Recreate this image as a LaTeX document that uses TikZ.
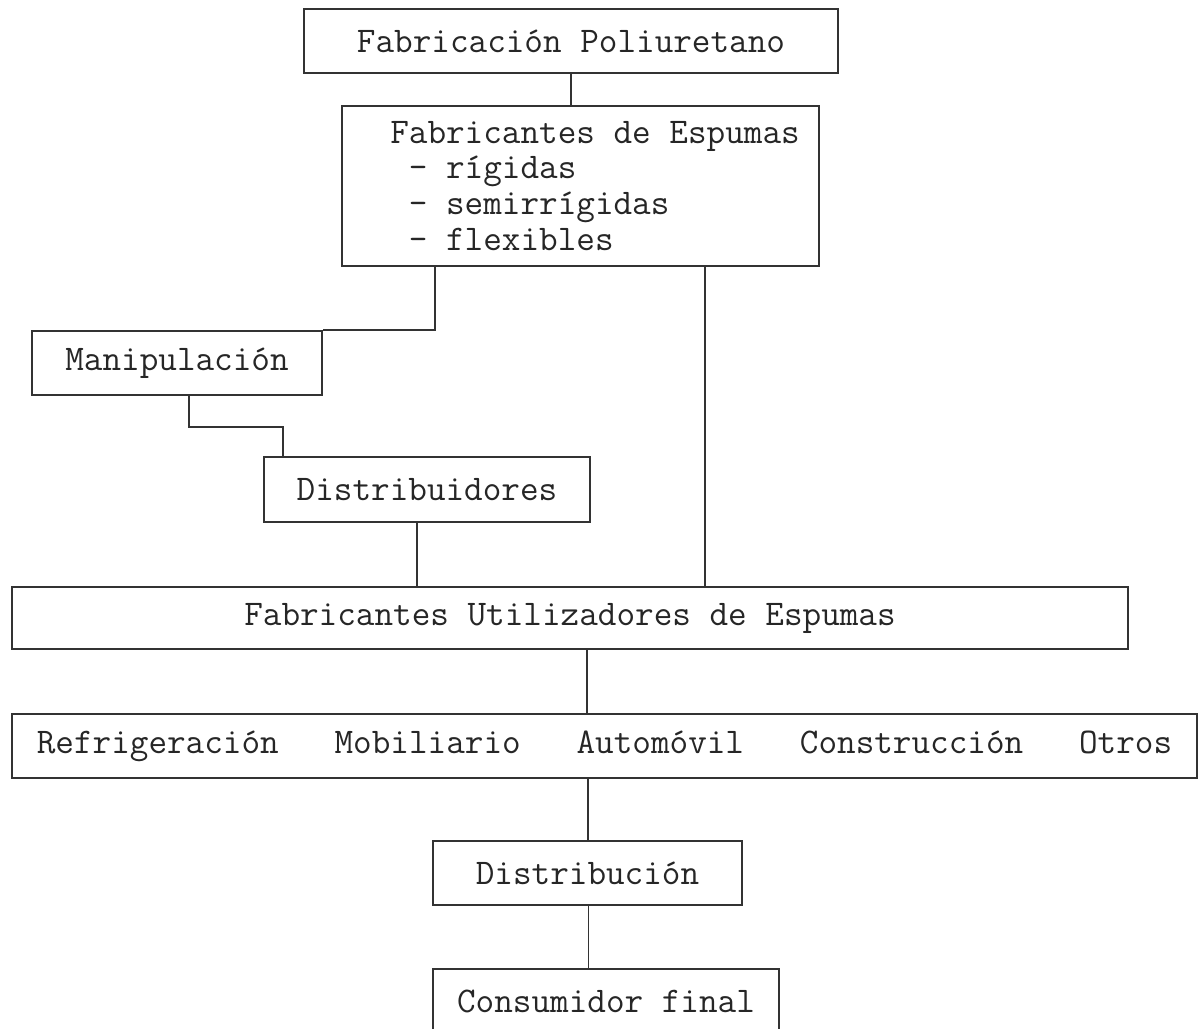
\documentclass[tikz,border=0pt]{standalone}
\usepackage{fontspec}
\usetikzlibrary{positioning}

\begin{document}
\begin{tikzpicture}[x=0.025cm, y=-0.025cm,
    box/.style={draw=black!80, line width=1.1pt, rectangle, inner sep=0pt, minimum height=1.6cm},
    link/.style={draw=black!80, line width=1.1pt},
    every node/.style={font=\ttfamily\fontsize{25.7pt}{25.5pt}\selectfont, text=black!85}]
    \useasboundingbox (0,0) rectangle (1198,1029);

    % boxes, top to bottom
    \node [box, minimum width=13.35cm](pu) at (571,41) {Fabricación Poliuretano};
    \node [box, minimum width=11.925cm, minimum height=4cm](espumas) at (580.5,186) {};
    \node [anchor=west, align=left, inner sep=0pt](espumaslist) at (390,186)
        {Fabricantes de Espumas\\~- rígidas\\~- semirrígidas\\~- flexibles};
    \node [box, minimum width=7.25cm](manip) at (177,363) {Manipulación};
    \node [box, minimum width=8.15cm, minimum height=1.625cm](distr) at (427,489.5) {Distribuidores};
    \node [box, minimum width=27.9cm, minimum height=1.55cm](utiliz) at (570,618) {Fabricantes Utilizadores de Espumas};
    \node [box, minimum width=29.625cm](sectores) at (604.5,746)
        {Refrigeración~~~Mobiliario~~~Automóvil~~~Construcción~~~Otros};
    \node [box, minimum width=7.725cm](distrib) at (587.5,873) {Distribución};
    \node [box, minimum width=8.65cm](consum) at (606,1001) {Consumidor final};

    % connectors
    \draw [link] (pu.south) -- (pu.south |- espumas.north);
    \draw [link] ([xshift=-3.64cm]espumas.south) |- (manip.north east);
    \draw [link] ([xshift=0.3cm]manip.south) -- ++(0,31) -| ([xshift=-3.6cm]distr.north);
    \draw [link] ([xshift=-0.25cm]distr.south) -- ([xshift=-0.25cm]distr.south |- utiliz.north);
    \draw [link] ([xshift=3.11cm]espumas.south) -- ([xshift=3.11cm]espumas.south |- utiliz.north);
    \draw [link] ([xshift=0.42cm]utiliz.south) -- ([xshift=0.42cm]utiliz.south |- sectores.north);
    \draw [link] ([xshift=-0.41cm]sectores.south) -- ([xshift=-0.41cm]sectores.south |- distrib.north);
    \draw [link] ([xshift=0.02cm]distrib.south) -- ([xshift=0.02cm]distrib.south |- consum.north);
\end{tikzpicture}
\end{document}
